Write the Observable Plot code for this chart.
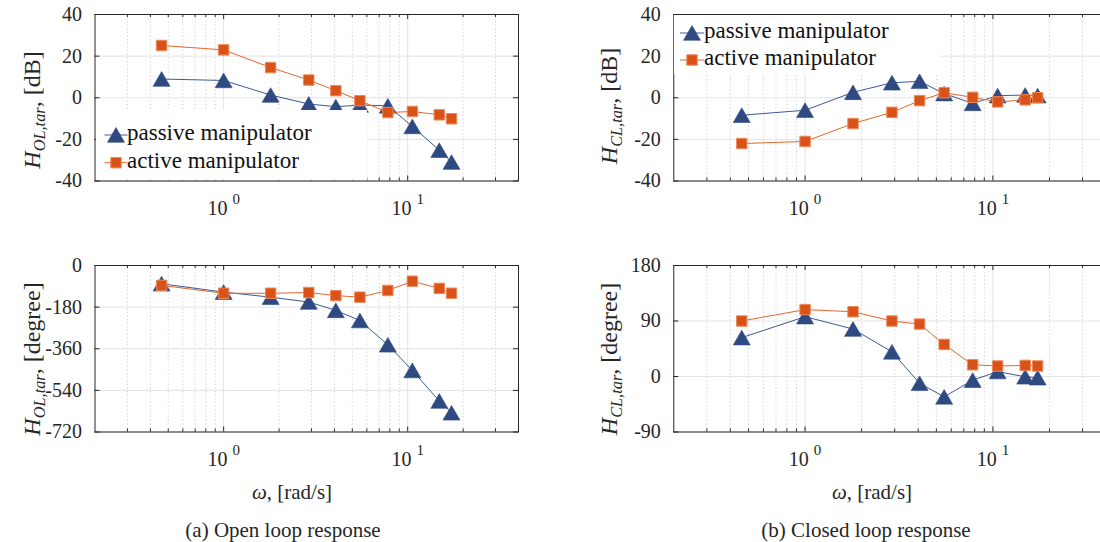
<!DOCTYPE html>
<html><head><meta charset="utf-8">
<script src="https://cdn.jsdelivr.net/npm/d3@7"></script>
<script src="https://cdn.jsdelivr.net/npm/@observablehq/plot@0.6"></script>
<style>
html,body{margin:0;padding:0;background:#fff;overflow:hidden;}
#root{position:relative;width:1100px;height:542px;overflow:hidden;font-family:"Liberation Serif",serif;color:#262626;}
#root svg text{font-family:"Liberation Serif",serif;}
.panel{position:absolute;}
.ylab{position:absolute;white-space:nowrap;transform:translate(-50%,-50%) rotate(-90deg);font-size:24px;line-height:1;}
.ylab sub{font-size:0.68em;vertical-align:-0.32em;}
.txt{position:absolute;white-space:nowrap;transform:translateX(-50%);font-size:21px;line-height:1;}
.legend{position:absolute;background:#fff;}
.legend svg{position:absolute;left:0;top:0;}
.legend span{position:absolute;white-space:nowrap;font-size:23px;line-height:1;color:#111;font-family:"Liberation Serif",serif;}
</style>
</head><body><div id="root"></div>
<script>
// ---- data ----
const freq = [0.46, 1.0, 1.8, 2.9, 4.07, 5.5, 7.8, 10.6, 14.85, 17.3];
const passiveOLmag = [9, 8.3, 1.3, -3, -4.3, -3.5, -3.9, -13.8, -25.2, -30.9];
const activeOLmag = [25.1, 23, 14.5, 8.5, 3.4, -1.4, -7.1, -6.6, -8.2, -10.1];
const passiveOLphase = [-79, -115, -137, -158, -194, -238, -343, -454, -586, -637];
const activeOLphase = [-86, -120, -120, -117, -130, -137, -108, -68, -99, -120];
const passiveCLmag = [-8.4, -6, 2.6, 7.2, 7.9, 2, -2.7, 1, 1.3, 1];
const activeCLmag = [-22, -21, -12.4, -7, -1.4, 2.4, 0.2, -2, -1, 0];
const passiveCLphase = [63, 97, 77, 40, -11, -33, -6, 8, -0.5, -2];
const activeCLphase = [90, 108.5, 105, 90, 85, 52, 19, 17, 18, 17];

const magTicks = [-40, -20, 0, 20, 40];
const olPhaseTicks = [-720, -540, -360, -180, 0];
const clPhaseTicks = [-90, 0, 90, 180];
const xDomain = [0.2, 40];
const majorX = [1, 10];
const minorX = [0.3, 0.4, 0.5, 0.6, 0.7, 0.8, 0.9, 2, 3, 4, 5, 6, 7, 8, 9, 20, 30];
const seriesNames = ["passive manipulator", "active manipulator"];

// ---- style ----
const FONT = "Liberation Serif";
const BLUE = "#2f4a80", BLUE_LINE = "#3b5a96";
const ORANGE = "#d95319", ORANGE_LINE = "#e2662e", ORANGE_EDGE = "#ee8a5c";
const INK = "#262626", GRID = "#e2e2e2";
const root = document.getElementById("root");

function panel({passive, active, yTicks, left, top, mL, mR}) {
  const W = 540, H = 240, mT = 14, mB = 240 - 180.5;
  const innerW = W - mL - mR, innerH = H - mT - mB;
  const pRows = freq.map((f, i) => ({f, v: passive[i]}));
  const aRows = freq.map((f, i) => ({f, v: active[i]}));
  const yDomain = [yTicks[0], yTicks[yTicks.length - 1]];
  const svg = Plot.plot({
    width: W, height: H,
    marginLeft: mL, marginRight: mR, marginTop: mT, marginBottom: mB,
    style: {fontFamily: FONT, fontSize: "20px", color: INK, background: "transparent", overflow: "visible"},
    x: {type: "log", domain: xDomain},
    y: {domain: yDomain},
    marks: [
      Plot.ruleX(minorX, {stroke: "#cfcfcf", strokeDasharray: "1.2,2.4"}),
      Plot.ruleX(majorX, {stroke: GRID}),
      Plot.ruleY(yTicks, {stroke: GRID}),
      Plot.line(pRows, {x: "f", y: "v", stroke: BLUE_LINE, strokeWidth: 1}),
      Plot.dot(pRows, {x: "f", y: "v", symbol: "triangle", r: 6.3, fill: BLUE, stroke: BLUE, strokeWidth: 0.6, dy: 2.4}),
      Plot.line(aRows, {x: "f", y: "v", stroke: ORANGE_LINE, strokeWidth: 1}),
      Plot.dot(aRows, {x: "f", y: "v", symbol: "square", r: 5.9, fill: ORANGE, stroke: ORANGE_EDGE, strokeWidth: 1}),
      // inward ticks
      Plot.tickX(majorX, {x: d => d, insetTop: innerH - 5, stroke: INK}),
      Plot.tickX(majorX, {x: d => d, insetBottom: innerH - 5, stroke: INK}),
      Plot.tickX(minorX, {x: d => d, insetTop: innerH - 3, stroke: INK}),
      Plot.tickX(minorX, {x: d => d, insetBottom: innerH - 3, stroke: INK}),
      Plot.tickY(yTicks, {y: d => d, insetRight: innerW - 5, stroke: INK}),
      Plot.tickY(yTicks, {y: d => d, insetLeft: innerW - 5, stroke: INK}),
      Plot.frame({stroke: INK, strokeWidth: 1}),
      Plot.axisX(majorX, {tickSize: 0, tickPadding: 20, fontSize: 20, fill: INK, tickFormat: d => "10|" + Math.round(Math.log10(d)), label: null}),
      Plot.axisY(yTicks, {tickSize: 0, tickPadding: 13, fontSize: 20, fill: INK, tickFormat: d => String(d), label: null})
    ]
  });
  // superscript exponents on x tick labels
  d3.select(svg).selectAll('g[aria-label="x-axis tick label"] text').each(function() {
    const [base, exp] = this.textContent.split("|");
    const t = d3.select(this);
    t.text(null);
    t.append("tspan").text(base);
    t.append("tspan").text("\u00a0");
    t.append("tspan").attr("dy", -11).attr("font-size", 15).text(exp);
  });
  svg.classList.add("panel");
  svg.style.left = left + "px";
  svg.style.top = top + "px";
  svg.style.position = "absolute";
  root.appendChild(svg);
}

panel({passive: passiveOLmag, active: activeOLmag, yTicks: magTicks, left: 0, top: 0, mL: 94.5, mR: 22});
panel({passive: passiveOLphase, active: activeOLphase, yTicks: olPhaseTicks, left: 0, top: 251, mL: 94.5, mR: 22});
panel({passive: passiveCLmag, active: activeCLmag, yTicks: magTicks, left: 580, top: 0, mL: 93.3, mR: 14.5});
panel({passive: passiveCLphase, active: activeCLphase, yTicks: clPhaseTicks, left: 580, top: 251, mL: 93.3, mR: 14.5});

function legend(left, top, w, h, rows) {
  const div = document.createElement("div");
  div.className = "legend";
  Object.assign(div.style, {left: left + "px", top: top + "px", width: w + "px", height: h + "px"});
  const svg = d3.create("svg").attr("width", w).attr("height", h).style("overflow", "visible");
  const tri = d3.symbol().type(d3.symbolTriangle).size(Math.PI * 6.3 * 6.3)();
  const sq = d3.symbol().type(d3.symbolSquare).size(Math.PI * 5.9 * 5.9)();
  rows.forEach(r => {
    const g = svg.append("g").attr("transform", `translate(0,${r.y})`);
    g.append("line").attr("x1", r.x0).attr("x2", r.x1).attr("stroke", r.line).attr("stroke-width", 1);
    g.append("path").attr("d", r.shape === "tri" ? tri : sq)
      .attr("transform", `translate(${(r.x0 + r.x1) / 2},${r.shape === "tri" ? 2.4 : 0})`)
      .attr("fill", r.fill).attr("stroke", r.edge).attr("stroke-width", r.shape === "tri" ? 0.6 : 1);
  });
  div.appendChild(svg.node());
  rows.forEach(r => {
    const s = document.createElement("span");
    s.textContent = r.label;
    s.style.left = r.x1 + "px";
    s.style.top = (r.y - 14) + "px";
    div.appendChild(s);
  });
  root.appendChild(div);
}
legend(95.5, 110, 271, 70, [
  {y: 25, x0: 8.5, x1: 31.5, shape: "tri", fill: BLUE, edge: BLUE, line: BLUE_LINE, label: seriesNames[0]},
  {y: 52.7, x0: 8.5, x1: 31.5, shape: "sq", fill: ORANGE, edge: ORANGE_EDGE, line: ORANGE_LINE, label: seriesNames[1]}
]);
legend(674, 15, 267, 59, [
  {y: 18, x0: 6, x1: 30, shape: "tri", fill: BLUE, edge: BLUE, line: BLUE_LINE, label: seriesNames[0]},
  {y: 45, x0: 6, x1: 30, shape: "sq", fill: ORANGE, edge: ORANGE_EDGE, line: ORANGE_LINE, label: seriesNames[1]}
]);

function ylab(cx, cy, sub, unit) {
  const d = document.createElement("div");
  d.className = "ylab";
  d.style.left = cx + "px"; d.style.top = cy + "px";
  d.innerHTML = `<i>H</i><sub><i>${sub}</i></sub>, [${unit}]`;
  root.appendChild(d);
}
ylab(34, 110, "OL,tar", "dB");
ylab(34, 359, "OL,tar", "degree");
ylab(611, 106, "CL,tar", "dB");
ylab(611, 359, "CL,tar", "degree");

function txt(cx, top, html) {
  const d = document.createElement("div");
  d.className = "txt";
  d.style.left = cx + "px"; d.style.top = top + "px";
  d.innerHTML = html;
  root.appendChild(d);
}
txt(292, 482, "<i>ω</i>, [rad/s]");
txt(872, 482, "<i>ω</i>, [rad/s]");
txt(283, 520, "(a) Open loop response");
txt(866, 520, "(b) Closed loop response");
</script></body></html>
